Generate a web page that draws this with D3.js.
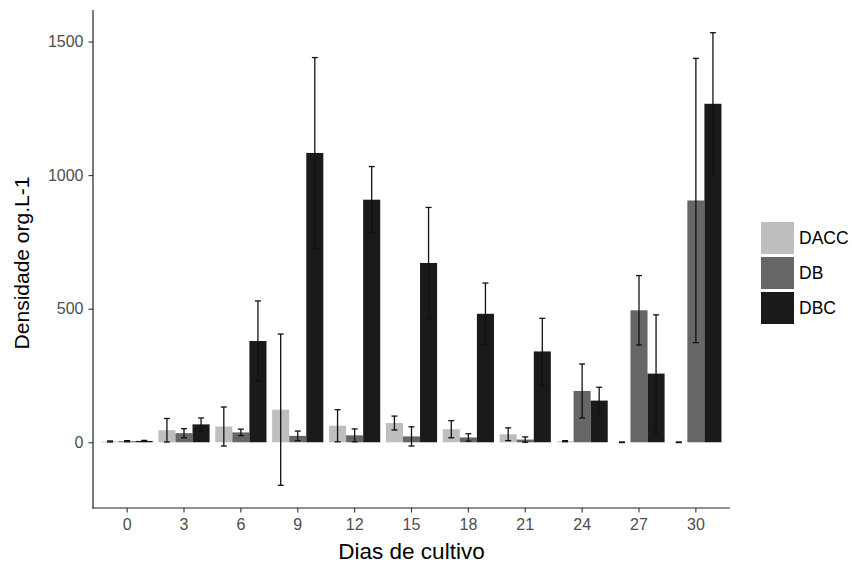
<!DOCTYPE html>
<html>
<head>
<meta charset="utf-8">
<script src="https://cdn.jsdelivr.net/npm/d3@7"></script>
<style>
  html, body { margin: 0; padding: 0; background: #ffffff; }
  svg { display: block; }
  text { font-family: "Liberation Sans", Arial, sans-serif; }
</style>
</head>
<body>
<svg id="chart" width="852" height="564"></svg>
<script>
// ---- data ----
const days = ["0", "3", "6", "9", "12", "15", "18", "21", "24", "27", "30"];
const seriesNames = ["DACC", "DB", "DBC"];
const seriesColors = ["#bebebe", "#666666", "#1a1a1a"];
const daccMean = [3, 45, 59, 122, 62, 72, 49, 30, 4, 0, 0];
const daccErr  = [2, 44, 73, 283, 60, 26, 32, 24, 2, 1, 1];
const dbMean   = [4, 34, 37, 24, 26, 22, 18, 10, 192, 494, 905];
const dbErr    = [2, 17, 12, 18, 24, 36, 14, 10, 101, 130, 532];
const dbcMean  = [5, 67, 379, 1083, 908, 671, 481, 340, 156, 257, 1267];
const dbcErr   = [2, 24, 150, 357, 124, 208, 115, 124, 50, 220, 266];
const yTicks = [0, 500, 1000, 1500];
const yDomain = [-246, 1618];

const means = [daccMean, dbMean, dbcMean];
const errs = [daccErr, dbErr, dbcErr];
const rows = [];
days.forEach((d, i) => {
  seriesNames.forEach((s, j) => {
    rows.push({ day: d, series: s, color: seriesColors[j], mean: means[j][i], err: errs[j][i] });
  });
});

// ---- layout ----
const svg = d3.select("#chart");
const panel = { left: 93, right: 730, top: 10, bottom: 508 };

const x = d3.scaleBand().domain(days).range([panel.left, panel.right])
  .paddingInner(0).paddingOuter(0.1);
const xInner = d3.scaleBand().domain(seriesNames)
  .range([0, x.bandwidth() * 0.9]).padding(0);
const groupOffset = x.bandwidth() * 0.05;
const y = d3.scaleLinear().domain(yDomain).range([panel.bottom, panel.top]);

// bars
svg.append("g").selectAll("rect").data(rows).join("rect")
  .attr("x", d => x(d.day) + groupOffset + xInner(d.series))
  .attr("width", xInner.bandwidth())
  .attr("y", d => y(Math.max(0, d.mean)))
  .attr("height", d => Math.abs(y(0) - y(d.mean)))
  .attr("fill", d => d.color);

// error bars
const capHalf = 3;
const eb = svg.append("g").attr("stroke", "#111").attr("stroke-width", 1.3).attr("fill", "none");
rows.forEach(d => {
  const cx = x(d.day) + groupOffset + xInner(d.series) + xInner.bandwidth() / 2;
  const yt = y(d.mean + d.err), yb = y(d.mean - d.err);
  eb.append("line").attr("x1", cx).attr("x2", cx).attr("y1", yt).attr("y2", yb);
  eb.append("line").attr("x1", cx - capHalf).attr("x2", cx + capHalf).attr("y1", yt).attr("y2", yt);
  eb.append("line").attr("x1", cx - capHalf).attr("x2", cx + capHalf).attr("y1", yb).attr("y2", yb);
});

// axes
const yAxis = d3.axisLeft(y).tickValues(yTicks).tickSize(4.5).tickPadding(5).tickFormat(d3.format("d"));
const gy = svg.append("g").attr("transform", `translate(${panel.left},0)`).call(yAxis);
gy.select(".domain").remove();
gy.selectAll(".tick line").attr("stroke", "#333").attr("stroke-width", 1.1);
gy.selectAll(".tick text").attr("fill", "#4d4d4d").attr("font-size", 16)
  .attr("font-family", "Liberation Sans, Arial, sans-serif");

const xAxis = d3.axisBottom(x).tickSize(4.5).tickPadding(6);
const gx = svg.append("g").attr("transform", `translate(0,${panel.bottom})`).call(xAxis);
gx.select(".domain").remove();
gx.selectAll(".tick line").attr("stroke", "#333").attr("stroke-width", 1.1);
gx.selectAll(".tick text").attr("fill", "#4d4d4d").attr("font-size", 16)
  .attr("font-family", "Liberation Sans, Arial, sans-serif");

// axis lines
svg.append("line").attr("x1", panel.left).attr("x2", panel.left)
  .attr("y1", panel.top).attr("y2", panel.bottom + 0.5)
  .attr("stroke", "#222").attr("stroke-width", 1.2);
svg.append("line").attr("x1", panel.left - 0.5).attr("x2", panel.right)
  .attr("y1", panel.bottom).attr("y2", panel.bottom)
  .attr("stroke", "#222").attr("stroke-width", 1.2);

// titles
svg.append("text").attr("x", (panel.left + panel.right) / 2).attr("y", 559)
  .attr("text-anchor", "middle").attr("font-size", 22.5).attr("fill", "#000")
  .text("Dias de cultivo");
svg.append("text")
  .attr("transform", `translate(29,${(panel.top + panel.bottom) / 2 + 4}) rotate(-90)`)
  .attr("text-anchor", "middle").attr("font-size", 21).attr("fill", "#000")
  .text("Densidade org.L-1");

// legend
const lg = svg.append("g").attr("transform", "translate(761,222)");
seriesNames.forEach((s, j) => {
  lg.append("rect").attr("x", 0).attr("y", j * 35).attr("width", 33).attr("height", 32)
    .attr("fill", seriesColors[j]);
  lg.append("text").attr("x", 38).attr("y", j * 35 + 16).attr("dy", "0.36em")
    .attr("font-size", 17.5).attr("fill", "#000").text(s);
});
</script>
</body>
</html>
